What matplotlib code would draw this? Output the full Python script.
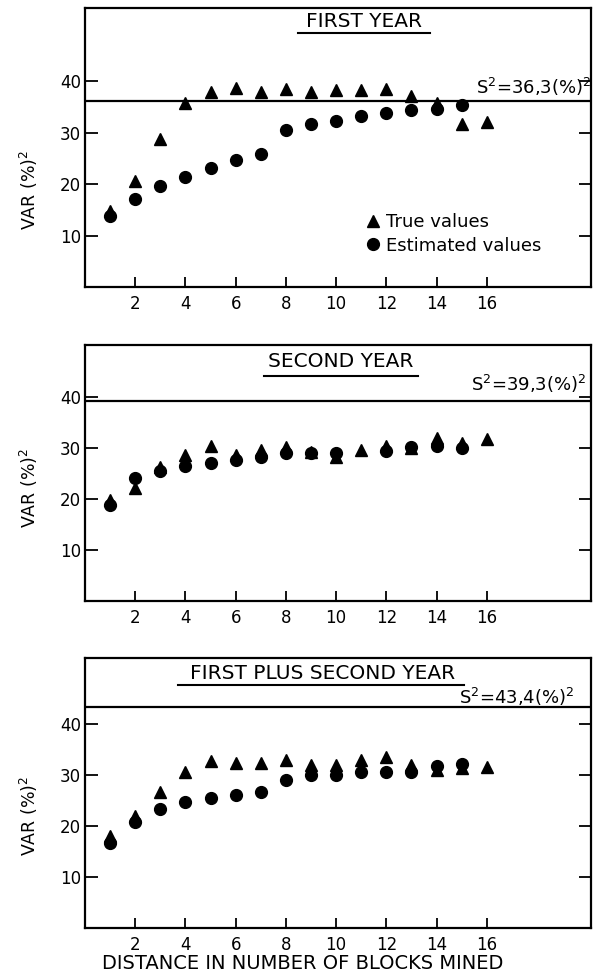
import numpy as np
import matplotlib
matplotlib.use("Agg")
from matplotlib import pyplot as plt

plt.rcParams['font.family'] = ['DejaVu Sans']
plt.rcParams['mathtext.default'] = 'regular'

blocks = np.arange(1, 17)
ticks = [2, 4, 6, 8, 10, 12, 14, 16]

# first year
true1 = [14.8, 20.6, 28.9, 35.9, 38.0, 38.8, 37.9, 38.6, 38.0, 38.3, 38.4, 38.6, 37.2, 35.8, 31.8, 32.1]
est1 = [13.8, 17.2, 19.6, 21.5, 23.2, 24.8, 25.9, 30.6, 31.8, 32.4, 33.2, 33.9, 34.4, 34.6, 35.5]
s2_1 = 36.3

# second year
true2 = [19.8, 22.1, 26.3, 28.6, 30.4, 28.6, 29.6, 30.1, 29.2, 28.3, 29.6, 30.4, 30.0, 31.9, 30.9, 31.7]
est2 = [18.8, 24.1, 25.4, 26.5, 27.1, 27.6, 28.2, 29.1, 29.1, 29.1, None, 29.4, 30.1, 30.3, 30.0]
s2_2 = 39.3

# first plus second year
true3 = [18.0, 21.9, 26.7, 30.7, 32.7, 32.4, 32.4, 32.9, 32.0, 32.0, 33.0, 33.5, 31.9, 31.0, 31.4, 31.6]
est3 = [16.7, 20.9, 23.4, 24.8, 25.6, 26.1, 26.6, 29.0, 30.0, 30.1, 30.6, 30.7, 30.6, 31.7, 32.2]
s2_3 = 43.4


def panel(fig, rect, ytop, true, est, s2, s2txt, title, tpos, uline, s2pos, lab_y):
    ax = fig.add_axes(rect)
    x_est = [b for b, v in zip(blocks, est) if v is not None]
    y_est = [v for v in est if v is not None]
    ax.plot(blocks, true, '^', color='k', ms=8, label='True values')
    ax.plot(x_est, y_est, 'o', color='k', ms=8.5, label='Estimated values')
    ax.axhline(s2, color='k', lw=1.6)
    ax.set_xlim(0, 20.15)
    ax.set_ylim(0, ytop)
    ax.set_xticks(ticks)
    ax.set_yticks([10, 20, 30, 40])
    ax.tick_params(axis='x', direction='in', length=7, width=1.3, labelsize=12, pad=6)
    ax.tick_params(axis='y', direction='in', length=9, width=1.3, labelsize=12, pad=3,
                   right=True)
    for sp in ax.spines.values():
        sp.set_linewidth(1.6)
    ax.set_ylabel('VAR (%)$^2$', fontsize=12.5)
    ax.yaxis.set_label_coords(-0.088, lab_y)
    ax.text(tpos[0], tpos[1], title, transform=ax.transAxes, ha='center', va='center',
            fontsize=14.5)
    ax.plot(uline[:2], [uline[2], uline[2]], transform=ax.transAxes, color='k', lw=1.5)
    ax.text(s2pos[0], s2pos[1], s2txt, transform=ax.get_yaxis_transform(),
            ha='right', va='center', fontsize=13)
    return ax


fig = plt.figure(figsize=(5.96, 9.77), dpi=100)

ax1 = panel(fig, [0.1426, 0.7062, 0.849, 0.2856], 54.3, true1, est1, s2_1,
            'S$^2$=36,3(%)$^2$', 'FIRST YEAR', (0.551, 0.95), (0.421, 0.682, 0.91),
            (1.0, 38.9), 0.348)
ax1.legend(loc='center left', bbox_to_anchor=(0.53, 0.19), frameon=False, fontsize=13,
           handletextpad=0.1, labelspacing=0.3, borderpad=0, handlelength=1.2)

panel(fig, [0.1426, 0.3849, 0.849, 0.262], 50.2, true2, est2, s2_2,
      'S$^2$=39,3(%)$^2$', 'SECOND YEAR', (0.506, 0.934), (0.354, 0.658, 0.879),
      (0.99, 42.6), 0.44)

ax3 = panel(fig, [0.1426, 0.0502, 0.849, 0.2763], 53.0, true3, est3, s2_3,
            'S$^2$=43,4(%)$^2$', 'FIRST PLUS SECOND YEAR', (0.47, 0.944), (0.184, 0.749, 0.9),
            (0.968, 45.4), 0.415)
ax3.set_xlabel('DISTANCE IN NUMBER OF BLOCKS MINED', fontsize=14)
ax3.xaxis.set_label_coords(0.43, -0.097)

fig.savefig('out.png', dpi=100)
